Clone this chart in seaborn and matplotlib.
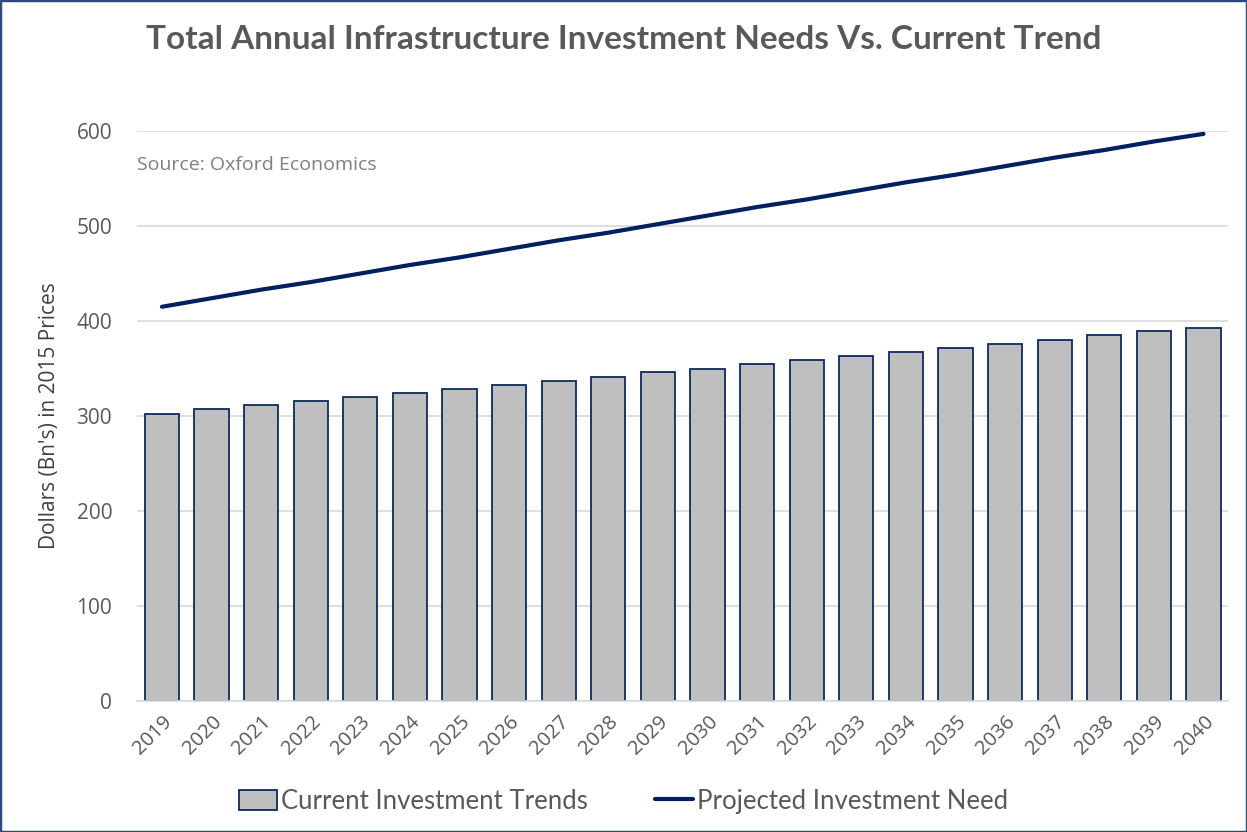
import numpy as np
import matplotlib
matplotlib.use("Agg")
import matplotlib.pyplot as plt
from matplotlib.patches import Rectangle, Patch
from matplotlib.lines import Line2D
import seaborn as sns

# data
years = [str(y) for y in range(2019, 2041)]
current_trend = [302.5, 307, 311.5, 316, 320.5, 324, 328.5, 333, 337, 341.5, 346,
                 350, 354.5, 358.5, 363, 367, 372, 376, 380.5, 385, 390, 393]
projected_need = [415, 424, 433, 441, 450, 459, 467, 476, 485, 493, 502,
                  511, 520, 528, 537, 546, 554, 563, 572, 580, 589, 597]

sns.set_theme(style="white")
plt.rcParams["font.family"] = ["Lato", "DejaVu Sans"]

fig = plt.figure(figsize=(12.47, 8.32), dpi=100)
ax = fig.add_axes([0.11, 0.1575, 0.875, 0.685])

sns.barplot(x=years, y=current_trend, color="#BFBFBF", edgecolor="#0F2A5E",
            linewidth=1.3, width=0.69, saturation=1, ax=ax)
sns.lineplot(x=np.arange(len(years)), y=projected_need, color="#002060",
             linewidth=3, ax=ax)

ax.set_ylim(0, 600)
ax.set_xlim(-0.5, len(years) - 0.5)
ax.set_yticks(range(0, 601, 100))
ax.yaxis.grid(True, color="#D9D9D9", linewidth=1.2)
ax.set_axisbelow(True)
for s in ["top", "right", "left"]:
    ax.spines[s].set_visible(False)
ax.spines["bottom"].set_color("#D9D9D9")
ax.spines["bottom"].set_linewidth(1.2)

ax.tick_params(axis="y", labelsize=15, labelcolor="#595959", length=0, pad=18)
ax.tick_params(axis="x", labelsize=14.5, labelcolor="#595959", length=0, pad=8)
plt.setp(ax.get_xticklabels(), rotation=45, ha="right", rotation_mode="anchor",
         family=["Open Sans", "DejaVu Sans"])
plt.setp(ax.get_yticklabels(), family=["Open Sans", "DejaVu Sans"])

ax.set_ylabel("Dollars (Bn's) in 2015 Prices", fontsize=15, color="#404040",
              labelpad=12, family=["Open Sans", "DejaVu Sans"])

ax.text(0.0, 0.94, "Source: Oxford Economics", transform=ax.transAxes,
        fontsize=14, color="#7F7F7F", va="center", ha="left",
        family=["Open Sans", "DejaVu Sans"])

fig.text(0.5, 0.953, "Total Annual Infrastructure Investment Needs Vs. Current Trend",
         ha="center", va="center", fontsize=24, fontweight="bold", color="#595959")

handles = [Patch(facecolor="#BFBFBF", edgecolor="#0F2A5E", linewidth=1.3),
           Line2D([0], [0], color="#002060", linewidth=3)]
fig.legend(handles, ["Current Investment Trends", "Projected Investment Need"],
           loc="center", bbox_to_anchor=(0.5, 0.037), ncol=2, frameon=False,
           fontsize=18.5, labelcolor="#595959", handlelength=1.5, handleheight=0.85,
           handletextpad=0.15, columnspacing=2.6)

fig.patches.append(Rectangle((0, 0), 1, 1, transform=fig.transFigure, fill=False,
                             edgecolor="#2F4B7C", linewidth=2.5))

fig.savefig("out.png", dpi=100)
